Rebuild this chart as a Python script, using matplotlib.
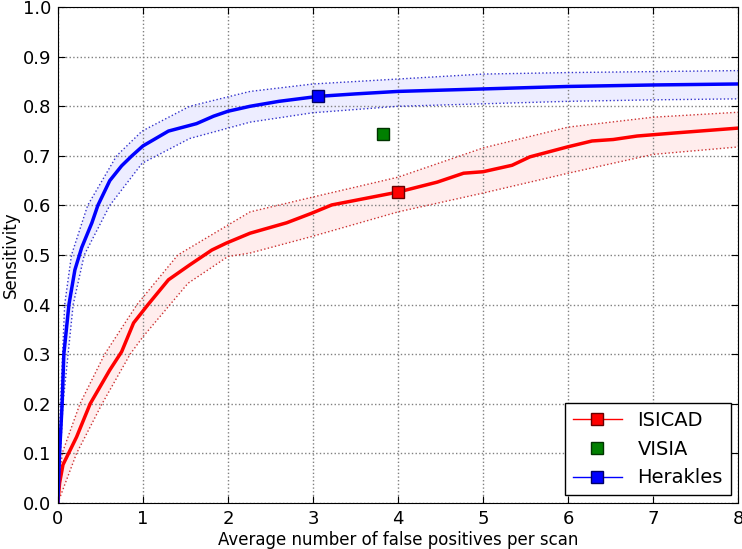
import numpy as np
import matplotlib
matplotlib.use("Agg")
import matplotlib.pyplot as plt

# FROC curves: average false positives per scan vs sensitivity
herakles_fp = [0, 0.02, 0.05, 0.07, 0.13, 0.2, 0.28, 0.4, 0.47, 0.61, 0.75, 0.87, 1.0, 1.15,
               1.3, 1.63, 1.83, 2.0, 2.26, 2.6, 3.06, 3.5, 4.0, 5.0, 6.0, 7.0, 8.0]
herakles_sens = [0, 0.1, 0.2, 0.3, 0.4, 0.47, 0.515, 0.565, 0.6, 0.65, 0.68, 0.7, 0.72, 0.735,
                 0.75, 0.765, 0.78, 0.79, 0.80, 0.81, 0.82, 0.825, 0.83, 0.835, 0.84, 0.843, 0.845]
herakles_upper_fp = [0, 0.03, 0.08, 0.16, 0.35, 0.69, 0.99, 1.55, 2.26, 3.0, 4.0, 5.0, 6.0, 7.0, 8.0]
herakles_upper = [0, 0.2, 0.4, 0.5, 0.6, 0.7, 0.75, 0.8, 0.83, 0.845, 0.855, 0.865, 0.868, 0.87, 0.872]
herakles_lower_fp = [0, 0.06, 0.18, 0.31, 0.61, 0.99, 1.55, 2.26, 3.0, 4.0, 5.0, 6.0, 7.0, 8.0]
herakles_lower = [0, 0.2, 0.4, 0.5, 0.6, 0.685, 0.735, 0.768, 0.787, 0.80, 0.805, 0.81, 0.813, 0.815]

isicad_fp = [0, 0.02, 0.06, 0.22, 0.38, 0.61, 0.75, 0.89, 1.06, 1.3, 1.55, 1.81, 1.98, 2.26, 2.69,
             2.98, 3.22, 3.52, 4.0, 4.46, 4.77, 5.0, 5.34, 5.55, 5.99, 6.28, 6.53, 6.81, 7.24, 8.0]
isicad_sens = [0, 0.04, 0.077, 0.133, 0.2, 0.268, 0.305, 0.363, 0.4, 0.45, 0.48, 0.51, 0.524,
               0.544, 0.565, 0.584, 0.601, 0.611, 0.627, 0.647, 0.665, 0.668, 0.681, 0.698, 0.718,
               0.73, 0.733, 0.74, 0.746, 0.756]
isicad_upper_fp = [0, 0.05, 0.26, 0.55, 0.93, 1.41, 2.26, 3.0, 4.0, 5.0, 6.0, 7.0, 8.0]
isicad_upper = [0, 0.1, 0.2, 0.3, 0.4, 0.5, 0.587, 0.617, 0.657, 0.716, 0.758, 0.778, 0.788]
isicad_lower_fp = [0, 0.22, 0.52, 0.85, 1.0, 1.53, 2.0, 2.26, 3.0, 4.0, 5.0, 6.0, 7.0, 8.0]
isicad_lower = [0, 0.1, 0.2, 0.3, 0.335, 0.443, 0.497, 0.504, 0.538, 0.587, 0.625, 0.665, 0.703, 0.718]

# operating points
isicad_op = (4.0, 0.627)
visia_op = (3.82, 0.744)
herakles_op = (3.06, 0.82)

fig = plt.figure(figsize=(7.42, 5.49), dpi=100)
ax = fig.add_axes([0.078, 0.084, 0.917, 0.903])


def band(fp_u, up, fp_l, lo, fill, edge):
    xs = np.r_[fp_u, fp_l[::-1]]
    ys = np.r_[up, lo[::-1]]
    ax.fill(xs, ys, color=fill, alpha=0.07, lw=0)
    ax.plot(fp_u, up, color=edge, ls=':', lw=1)
    ax.plot(fp_l, lo, color=edge, ls=':', lw=1)


band(isicad_upper_fp, isicad_upper, isicad_lower_fp, isicad_lower, 'red', '#cc3333')
band(herakles_upper_fp, herakles_upper, herakles_lower_fp, herakles_lower, 'blue', '#3333cc')

ax.plot(isicad_fp, isicad_sens, color='red', lw=2.5)
ax.plot(herakles_fp, herakles_sens, color='blue', lw=2.5)

ms = 9
ax.plot([isicad_op[0]], [isicad_op[1]], 's', color='red', mec='#660000', ms=ms)
ax.plot([visia_op[0]], [visia_op[1]], 's', color='green', mec='#003300', ms=ms)
ax.plot([herakles_op[0]], [herakles_op[1]], 's', color='blue', mec='#000066', ms=ms)

# legend handles: line with square marker
h1, = ax.plot([], [], '-s', color='red', mfc='red', mec='#660000', ms=ms, lw=1)
h2, = ax.plot([], [], 's', color='green', mec='#003300', ms=ms)
h3, = ax.plot([], [], '-s', color='blue', mfc='blue', mec='#000066', ms=ms, lw=1)
leg = ax.legend([h1, h2, h3], ['ISICAD', 'VISIA', 'Herakles'], loc='lower right',
                numpoints=1, fancybox=False, fontsize=14, handlelength=2.5,
                borderaxespad=0.4, framealpha=1)
leg.get_frame().set_edgecolor('black')

ax.set_xlim(0, 8)
ax.set_ylim(0, 1.0)
ax.set_xticks(np.arange(0, 9, 1))
ax.set_yticks(np.arange(0, 1.01, 0.1))
ax.set_yticklabels(['%.1f' % v for v in np.arange(0, 1.01, 0.1)])
ax.tick_params(direction='in', top=True, right=True, labelsize=13, length=5, pad=5)
ax.grid(True, color='gray', ls=':', lw=1)
ax.set_xlabel('Average number of false positives per scan', fontsize=12, labelpad=2)
ax.set_ylabel('Sensitivity', fontsize=12, labelpad=2)

plt.savefig('out.png', dpi=100)
plt.close()
